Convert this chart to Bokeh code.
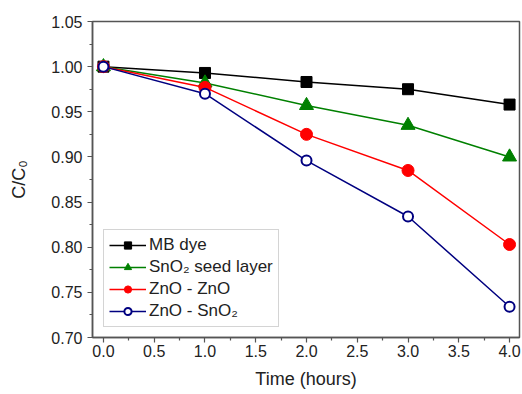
from bokeh.plotting import figure
from bokeh.models import FixedTicker, Range1d, Legend, LegendItem, NumeralTickFormatter
from bokeh.embed import file_html
from bokeh.resources import INLINE

time_h = [0.0, 1.0, 2.0, 3.0, 4.0]
mb_dye = [1.000, 0.993, 0.983, 0.975, 0.958]
sno2_seed = [1.000, 0.982, 0.957, 0.935, 0.900]
zno_zno = [1.000, 0.977, 0.925, 0.885, 0.803]
zno_sno2 = [1.000, 0.970, 0.896, 0.834, 0.734]

x_ticks = [0.0, 0.5, 1.0, 1.5, 2.0, 2.5, 3.0, 3.5, 4.0]
y_ticks = [0.70, 0.75, 0.80, 0.85, 0.90, 0.95, 1.00, 1.05]

FONT = "Liberation Sans"

p = figure(width=522, height=394, output_backend="svg", toolbar_location=None,
           x_range=Range1d(-0.108, 4.098), y_range=Range1d(0.70, 1.05),
           min_border_left=92, min_border_right=3, min_border_top=21, min_border_bottom=57)
p.grid.visible = False
p.outline_line_color = "#555555"
p.outline_line_width = 1.5
p.background_fill_color = "white"
p.border_fill_color = "white"

p.xaxis.ticker = FixedTicker(ticks=x_ticks, minor_ticks=[0.25, 0.75, 1.25, 1.75, 2.25, 2.75, 3.25, 3.75])
p.yaxis.ticker = FixedTicker(ticks=y_ticks, minor_ticks=[0.725, 0.775, 0.825, 0.875, 0.925, 0.975, 1.025])
p.xaxis.formatter = NumeralTickFormatter(format="0.0")
p.yaxis.formatter = NumeralTickFormatter(format="0.00")

for ax in (p.xaxis, p.yaxis):
    ax.axis_line_color = "#555555"
    ax.axis_line_width = 1.5
    ax.major_tick_line_color = "#555555"
    ax.minor_tick_line_color = "#555555"
    ax.major_tick_line_width = 1.2
    ax.minor_tick_line_width = 1.2
    ax.major_tick_in = 0
    ax.major_tick_out = 5
    ax.minor_tick_in = 0
    ax.minor_tick_out = 3
    ax.major_label_text_font = FONT
    ax.major_label_text_font_size = "16px"
    ax.major_label_text_color = "#222222"
    ax.axis_label_text_font = FONT
    ax.axis_label_text_font_size = "18px"
    ax.axis_label_text_font_style = "normal"
    ax.axis_label_text_color = "#222222"

p.xaxis.axis_label = "Time (hours)"
p.yaxis.axis_label = "C/C\u2080"
p.xaxis.axis_label_standoff = 9
p.yaxis.axis_label_standoff = 19
p.xaxis.major_label_standoff = 2
p.yaxis.major_label_standoff = 5

r1l = p.line(time_h, mb_dye, line_color="black", line_width=1.5)
r1m = p.scatter(time_h, mb_dye, marker="square", size=11, fill_color="black", line_color="black")
r2l = p.line(time_h, sno2_seed, line_color="#008000", line_width=1.5)
r2m = p.scatter(time_h, sno2_seed, marker="triangle", size=14, fill_color="#008000", line_color="#008000")
r3l = p.line(time_h, zno_zno, line_color="#ff0000", line_width=1.5)
r3m = p.scatter(time_h, zno_zno, marker="circle", size=12, fill_color="#ff0000", line_color="#ff0000")
r4l = p.line(time_h, zno_sno2, line_color="#000080", line_width=1.5)
r4m = p.scatter(time_h, zno_sno2, marker="circle", size=10, fill_color="white", line_color="#000080", line_width=2)

legend = Legend(items=[
    LegendItem(label="MB dye", renderers=[r1l, r1m]),
    LegendItem(label="SnO\u2082 seed layer", renderers=[r2l, r2m]),
    LegendItem(label="ZnO - ZnO", renderers=[r3l, r3m]),
    LegendItem(label="ZnO - SnO\u2082", renderers=[r4l, r4m]),
], location=(11, 10))
legend.label_text_font = FONT
legend.label_text_font_size = "17px"
legend.label_text_color = "#222222"
legend.glyph_width = 37
legend.glyph_height = 18
legend.label_height = 18
legend.label_standoff = 3
legend.spacing = 2
legend.padding = 5
legend.margin = 0
legend.border_line_color = "#aaaaaa"
legend.border_line_width = 1
legend.background_fill_alpha = 1
p.add_layout(legend, "center")

open("out.html", "w").write(file_html(p, INLINE))
